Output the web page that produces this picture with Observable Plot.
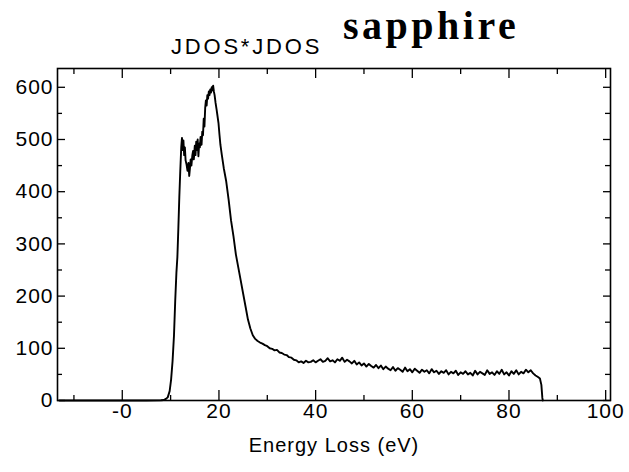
<!DOCTYPE html>
<html>
<head>
<meta charset="utf-8">
<script src="https://cdn.jsdelivr.net/npm/d3@7"></script>
<script src="https://cdn.jsdelivr.net/npm/@observablehq/plot@0.6"></script>
<style>
  html, body { margin: 0; padding: 0; background: #fff; }
  #wrap { position: relative; width: 629px; height: 472px; overflow: hidden; }
  #t1 { position: absolute; left: 171px; top: 36px; font: 22px "Liberation Sans", Arial, sans-serif; line-height: 1; letter-spacing: 2.8px; color: #000; white-space: nowrap; }
  #t2 { position: absolute; left: 343px; top: 6px; font: bold 40px "Liberation Serif", "Times New Roman", serif; line-height: 1; letter-spacing: 3.5px; color: #000; white-space: nowrap; }
  #chart svg text { letter-spacing: 1px; }
</style>
</head>
<body>
<div id="wrap">
  <div id="chart"></div>
  <div id="t1"></div>
  <div id="t2"></div>
</div>
<script>
const titleSmall = "JDOS*JDOS";
const titleBig = "sapphire";
const xLabel = "Energy Loss (eV)";

const xTicks = [0, 20, 40, 60, 80, 100];
const xTickLabels = ["-0", "20", "40", "60", "80", "100"];
const xMinorTicks = [-10, 10, 30, 50, 70, 90];
const yTicks = [0, 100, 200, 300, 400, 500, 600];
const yMinorTicks = [50, 150, 250, 350, 450, 550];

const energyLoss = [
  -13, 0, 5, 8, 8.6, 9.0, 9.4, 9.8, 10.1, 10.4, 10.7, 10.95, 11.2, 11.4, 11.6, 11.8, 12.0, 12.2, 12.35, 12.5,
  12.65, 12.8, 12.95, 13.1, 13.3, 13.5, 13.7, 13.85, 14.0, 14.15, 14.3, 14.5, 14.65, 14.8, 15.0, 15.15, 15.3, 15.45, 15.6, 15.75,
  15.9, 16.05, 16.2, 16.4, 16.55, 16.7, 16.85, 17.0, 17.15, 17.3, 17.45, 17.6, 17.75, 17.9, 18.05, 18.2, 18.35, 18.5, 18.65, 18.8,
  18.95, 19.1, 19.3, 19.5, 19.7, 19.9, 20.1, 20.3, 20.6, 21.0, 21.5, 22.0, 22.5, 23.0, 23.5, 24.0, 24.5, 25.0, 25.5, 26.0,
  26.5, 27.0, 27.5, 28.0, 28.5, 29.0, 29.5,
  30.0, 30.5, 31.0, 31.5, 32.0, 32.5, 33.0, 33.5, 34.0, 34.5,
  35.0, 35.5, 36.0, 36.5, 37.0, 37.5, 38.0, 38.5, 39.0, 39.5,
  40.0, 40.5, 41.0, 41.5, 42.0, 42.5, 43.0, 43.5, 44.0, 44.5,
  45.0, 45.5, 46.0, 46.5, 47.0, 47.5, 48.0, 48.5, 49.0, 49.5,
  50.0, 50.5, 51.0, 51.5, 52.0, 52.5, 53.0, 53.5, 54.0, 54.5,
  55.0, 55.5, 56.0, 56.5, 57.0, 57.5, 58.0, 58.5, 59.0, 59.5,
  60.0, 60.5, 61.0, 61.5, 62.0, 62.5, 63.0, 63.5, 64.0, 64.5,
  65.0, 65.5, 66.0, 66.5, 67.0, 67.5, 68.0, 68.5, 69.0, 69.5,
  70.0, 70.5, 71.0, 71.5, 72.0, 72.5, 73.0, 73.5, 74.0, 74.5,
  75.0, 75.5, 76.0, 76.5, 77.0, 77.5, 78.0, 78.5, 79.0, 79.5,
  80.0, 80.5, 81.0, 81.5, 82.0, 82.5, 83.0, 83.5, 84.0, 84.5,
  85.0, 85.5, 86.0, 86.4, 86.7, 86.9, 87.0
];
const jdos = [
  0, 0, 0, 0.5, 1, 3, 6, 18, 40, 75, 125, 190, 245, 275, 330, 390, 440, 485, 503, 480,
  498, 470, 485, 460, 452, 440, 455, 430, 445, 462, 450, 470, 478, 462, 488, 470, 496, 480, 500, 468,
  492, 485, 505, 490, 515, 508, 540, 525, 560, 575, 565, 585, 578, 592, 585, 596, 590, 600, 594, 603,
  592, 585, 570, 558, 545, 532, 510, 490, 470, 445, 420, 385, 345, 315, 280, 255, 230, 205, 180, 155,
  138, 125, 118, 114, 111, 109, 106,
  104, 100, 99, 96, 97, 92, 91, 88, 87, 83,
  82, 78, 77, 73, 75, 72, 76, 73, 74, 77,
  73, 76, 79, 74, 76, 81, 75, 77, 73, 79,
  76, 82, 74, 78, 75, 71, 76, 69, 73, 67,
  71, 65, 70, 66, 63, 68, 62, 67, 60, 65,
  61, 58, 64, 57, 62, 59, 55, 63, 56, 60,
  54, 61, 57, 53, 59, 55, 58, 52, 60, 54,
  57, 51, 56, 53, 58, 50, 55, 52, 57, 49,
  54, 51, 56, 50, 53, 48, 57, 50, 55, 52,
  49, 58, 51, 54, 49, 56, 51, 59, 50, 54,
  48, 56, 51, 58, 50, 55, 52, 59, 54, 58,
  52, 48, 45, 42, 30, 5, 0
];

const data = energyLoss.map((e, i) => ({e, v: jdos[i]}));
const fmt = d => xTickLabels[xTicks.indexOf(d)];

document.getElementById("t1").textContent = titleSmall;
document.getElementById("t2").textContent = titleBig;

const chart = Plot.plot({
  width: 629,
  height: 472,
  marginTop: 68,
  marginBottom: 72,
  marginLeft: 57,
  marginRight: 19,
  style: {fontFamily: "'Liberation Sans', Arial, sans-serif", fontSize: "20px", color: "#000", background: "transparent"},
  x: {domain: [-13.4, 101]},
  y: {domain: [0, 636]},
  marks: [
    Plot.axisX({ticks: xTicks, tickFormat: fmt, tickSize: 0, tickPadding: 3, label: null, fontSize: 21, fill: "#000"}),
    Plot.axisY({ticks: yTicks, tickSize: 0, tickPadding: 4, label: null, fontSize: 21, fill: "#000"}),
    Plot.axisX({anchor: "bottom", ticks: xTicks, tickSize: -10, text: null, label: null, strokeWidth: 1.3}),
    Plot.axisX({anchor: "bottom", ticks: xMinorTicks, tickSize: -5, text: null, label: null, strokeWidth: 1.3}),
    Plot.axisX({anchor: "top", ticks: xTicks, tickSize: -9, text: null, label: null, strokeWidth: 1.3}),
    Plot.axisX({anchor: "top", ticks: xMinorTicks, tickSize: -5, text: null, label: null, strokeWidth: 1.3}),
    Plot.axisY({anchor: "left", ticks: yTicks, tickSize: -8, text: null, label: null, strokeWidth: 1.3}),
    Plot.axisY({anchor: "left", ticks: yMinorTicks, tickSize: -5, text: null, label: null, strokeWidth: 1.3}),
    Plot.axisY({anchor: "right", ticks: yTicks, tickSize: -8, text: null, label: null, strokeWidth: 1.3}),
    Plot.axisY({anchor: "right", ticks: yMinorTicks, tickSize: -6, text: null, label: null, strokeWidth: 1.3}),
    Plot.frame({stroke: "#000", strokeWidth: 1.6}),
    Plot.line(data, {x: "e", y: "v", stroke: "#000", strokeWidth: 1.9, strokeLinejoin: "round"}),
    Plot.text([xLabel], {frameAnchor: "bottom", dy: 45, fontSize: 20, fill: "#000", lineAnchor: "middle"})
  ]
});
document.getElementById("chart").appendChild(chart);
</script>
</body>
</html>
